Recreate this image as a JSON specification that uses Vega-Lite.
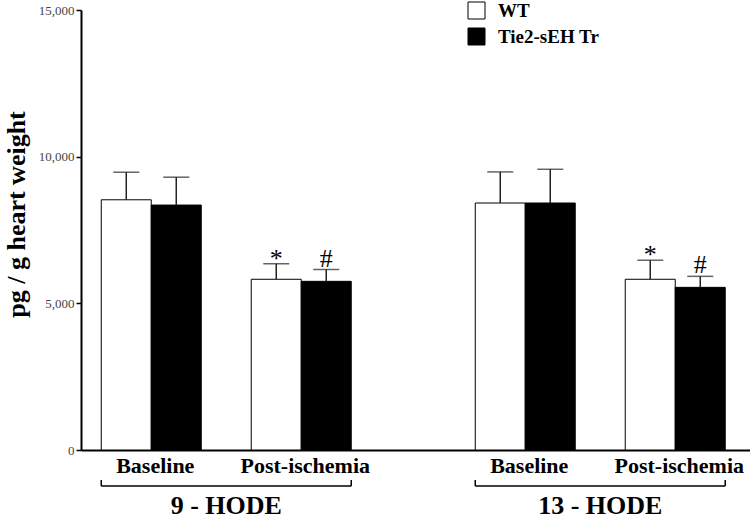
{
  "$schema": "https://vega.github.io/schema/vega-lite/v6.json",
  "width": 669,
  "height": 440,
  "autosize": {"type": "none"},
  "padding": {"left": 81, "top": 10, "right": 0, "bottom": 70},
  "background": "white",
  "config": {"view": {"stroke": null}, "font": "Liberation Serif"},
  "datasets": {
    "bars": [
      {"HODE": "9 - HODE", "condition": "Baseline", "genotype": "WT", "slot": "Baseline WT", "value": 8530, "upper": 9470, "sig": ""},
      {"HODE": "9 - HODE", "condition": "Baseline", "genotype": "Tie2-sEH Tr", "slot": "Baseline Tr", "value": 8350, "upper": 9300, "sig": ""},
      {"HODE": "9 - HODE", "condition": "Post-ischemia", "genotype": "WT", "slot": "Post WT", "value": 5820, "upper": 6350, "sig": "*"},
      {"HODE": "9 - HODE", "condition": "Post-ischemia", "genotype": "Tie2-sEH Tr", "slot": "Post Tr", "value": 5750, "upper": 6150, "sig": "#"},
      {"HODE": "13 - HODE", "condition": "Baseline", "genotype": "WT", "slot": "Baseline WT", "value": 8420, "upper": 9480, "sig": ""},
      {"HODE": "13 - HODE", "condition": "Baseline", "genotype": "Tie2-sEH Tr", "slot": "Baseline Tr", "value": 8420, "upper": 9570, "sig": ""},
      {"HODE": "13 - HODE", "condition": "Post-ischemia", "genotype": "WT", "slot": "Post WT", "value": 5820, "upper": 6470, "sig": "*"},
      {"HODE": "13 - HODE", "condition": "Post-ischemia", "genotype": "Tie2-sEH Tr", "slot": "Post Tr", "value": 5545, "upper": 5920, "sig": "#"}
    ],
    "groups": [{"HODE": "9 - HODE"}, {"HODE": "13 - HODE"}]
  },
  "encoding": {
    "x": {
      "field": "HODE",
      "type": "nominal",
      "scale": {"domain": ["9 - HODE", "13 - HODE"], "paddingInner": 0.3316, "paddingOuter": 0.0602, "align": 0.45},
      "axis": {
        "title": null,
        "ticks": false,
        "tickSize": 0,
        "domainColor": "black",
        "domainWidth": 2,
        "labelFont": "Liberation Serif",
        "labelFontSize": 26,
        "labelFontWeight": "bold",
        "labelColor": "black",
        "labelPadding": 63,
        "labelBaseline": "alphabetic",
        "labelAngle": 0
      }
    }
  },
  "layer": [
    {
      "data": {"name": "bars"},
      "mark": {"type": "bar", "stroke": "black", "strokeWidth": 1},
      "encoding": {
        "xOffset": {"field": "slot", "type": "nominal", "scale": {"domain": ["Baseline WT", "Baseline Tr", "gap", "Post WT", "Post Tr"], "paddingInner": 0, "paddingOuter": 0}},
        "y": {
          "field": "value",
          "type": "quantitative",
          "stack": null,
          "scale": {"domain": [0, 15000], "nice": false},
          "axis": {
            "values": [0, 5000, 10000, 15000],
            "format": ",d",
            "grid": false,
            "domainColor": "black",
            "domainWidth": 2,
            "tickColor": "black",
            "tickWidth": 1.5,
            "tickSize": 5,
            "labelPadding": 2,
            "labelFont": "Liberation Serif",
            "labelFontSize": 13,
            "labelColor": "#444",
            "title": "pg / g heart weight",
            "titleFont": "Liberation Serif",
            "titleFontSize": 26,
            "titleFontWeight": "bold",
            "titleColor": "black",
            "titleX": -57,
            "titleY": 204,
            "titleAngle": -90,
            "titleAlign": "center",
            "titleBaseline": "alphabetic"
          }
        },
        "fill": {
          "field": "genotype",
          "type": "nominal",
          "scale": {"domain": ["WT", "Tie2-sEH Tr"], "range": ["white", "black"]},
          "legend": {
            "orient": "none",
            "legendX": 386,
            "legendY": -9,
            "title": null,
            "padding": 0,
            "symbolType": "square",
            "symbolSize": 289,
            "symbolStrokeColor": "black",
            "symbolStrokeWidth": 1,
            "symbolOpacity": 1,
            "labelFont": "Liberation Serif",
            "labelFontSize": 19,
            "labelFontWeight": "bold",
            "labelColor": "black",
            "labelOffset": 12,
            "rowPadding": 5
          }
        }
      }
    },
    {
      "data": {"name": "bars"},
      "mark": {"type": "rule", "color": "#222", "strokeWidth": 1.5},
      "encoding": {
        "xOffset": {"field": "slot", "type": "nominal"},
        "y": {"field": "value", "type": "quantitative"},
        "y2": {"field": "upper"}
      }
    },
    {
      "data": {"name": "bars"},
      "mark": {"type": "tick", "color": "#222", "size": 26, "thickness": 1.5, "orient": "horizontal"},
      "encoding": {
        "xOffset": {"field": "slot", "type": "nominal"},
        "y": {"field": "upper", "type": "quantitative"}
      }
    },
    {
      "data": {"name": "bars"},
      "transform": [{"filter": "datum.sig == '*'"}],
      "mark": {"type": "text", "fontSize": 26, "font": "Liberation Serif", "color": "black", "baseline": "alphabetic", "dy": 3},
      "encoding": {
        "xOffset": {"field": "slot", "type": "nominal"},
        "y": {"field": "upper", "type": "quantitative"},
        "text": {"field": "sig"}
      }
    },
    {
      "data": {"name": "bars"},
      "transform": [{"filter": "datum.sig == '#'"}],
      "mark": {"type": "text", "fontSize": 26, "font": "Liberation Serif", "color": "black", "baseline": "alphabetic", "dy": -3},
      "encoding": {
        "xOffset": {"field": "slot", "type": "nominal"},
        "y": {"field": "upper", "type": "quantitative"},
        "text": {"field": "sig"}
      }
    },
    {
      "data": {"name": "bars"},
      "transform": [{"filter": "datum.genotype == 'WT'"}],
      "mark": {"type": "text", "fontSize": 22, "fontWeight": "bold", "font": "Liberation Serif", "color": "black", "baseline": "alphabetic", "dy": 23, "dx": 29},
      "encoding": {
        "xOffset": {"field": "slot", "type": "nominal"},
        "y": {"datum": 0},
        "text": {"field": "condition"}
      }
    },
    {
      "data": {"name": "groups"},
      "mark": {"type": "rule", "color": "black", "strokeWidth": 1.5, "yOffset": 36},
      "encoding": {
        "x": {"field": "HODE", "type": "nominal", "bandPosition": 0},
        "x2": {"field": "HODE", "bandPosition": 1},
        "y": {"datum": 0}
      }
    },
    {
      "data": {"name": "groups"},
      "mark": {"type": "rule", "color": "black", "strokeWidth": 1.5, "yOffset": 30, "y2Offset": 36},
      "encoding": {
        "x": {"field": "HODE", "type": "nominal", "bandPosition": 0},
        "y": {"datum": 0},
        "y2": {"datum": 0}
      }
    },
    {
      "data": {"name": "groups"},
      "mark": {"type": "rule", "color": "black", "strokeWidth": 1.5, "yOffset": 30, "y2Offset": 36},
      "encoding": {
        "x": {"field": "HODE", "type": "nominal", "bandPosition": 1},
        "y": {"datum": 0},
        "y2": {"datum": 0}
      }
    }
  ]
}
